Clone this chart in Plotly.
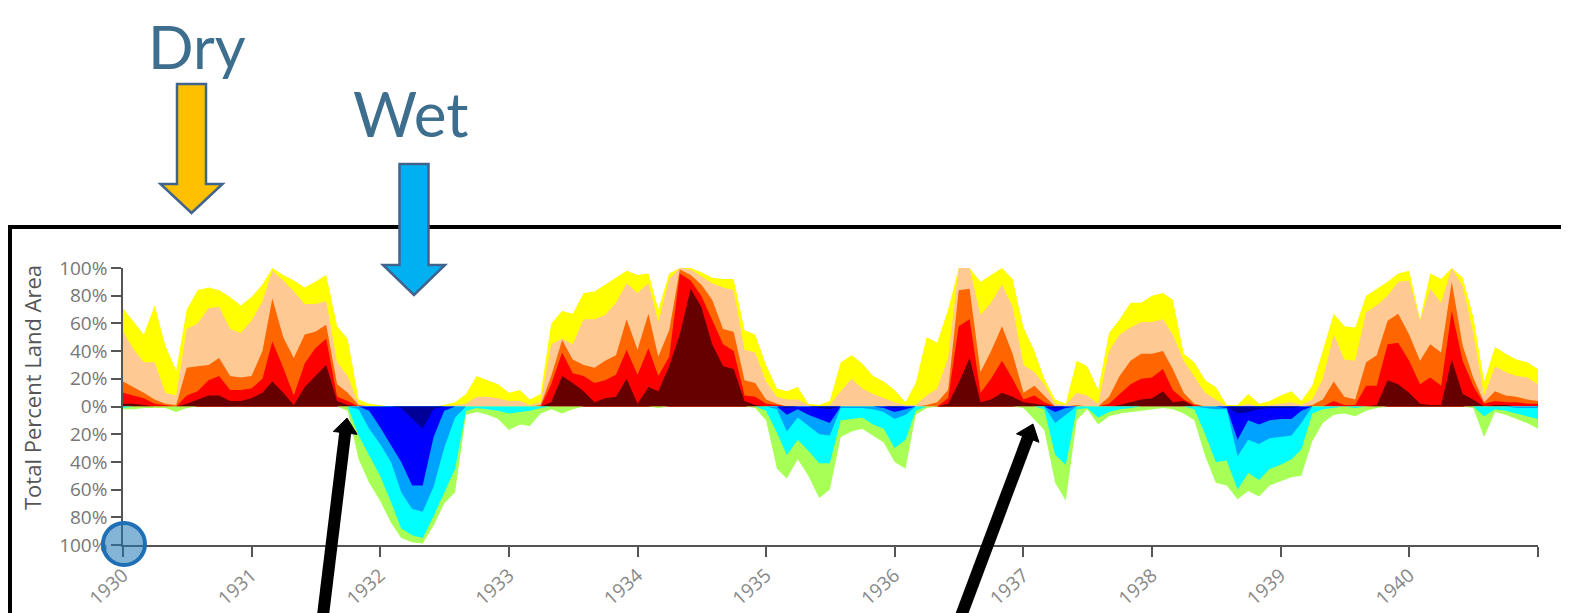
import pandas as pd
import plotly.graph_objects as go

# monthly drought / wetness extent, Jan 1930 .. Jan 1941
months = pd.date_range("1930-01-01", periods=133, freq="MS")

# dry side: cumulative percent of land area at or above each class
dry_d0 = [71, 61, 52, 73, 44, 26, 70, 84, 86, 84, 79, 73,
          79, 88, 100, 95, 91, 86, 90, 95, 58, 49, 5, 2,
          1, 0, 0, 0, 0, 0, 1, 3, 9, 22, 19, 16,
          10, 12, 5, 9, 60, 69, 67, 82, 83, 88, 93, 98,
          95, 96, 70, 96, 100, 100, 97, 93, 92, 92, 55, 52,
          30, 13, 11, 14, 2, 1, 4, 32, 37, 31, 22, 18,
          12, 3, 17, 50, 46, 70, 100, 100, 90, 95, 100, 92,
          57, 40, 20, 5, 2, 33, 29, 12, 53, 63, 75, 75,
          80, 82, 77, 38, 32, 19, 14, 1, 1, 9, 2, 4,
          8, 11, 4, 15, 40, 67, 58, 57, 80, 85, 90, 96,
          98, 63, 96, 92, 100, 93, 65, 18, 43, 38, 34, 32,
          27]
dry_d1 = [54, 41, 32, 32, 10, 8, 56, 60, 71, 72, 56, 53,
          62, 76, 98, 91, 83, 74, 74, 76, 32, 22, 2, 0,
          0, 0, 0, 0, 0, 0, 0, 1, 2, 7, 7, 6,
          4, 4, 1, 3, 45, 49, 45, 63, 63, 66, 75, 89,
          82, 89, 61, 92, 100, 99, 94, 89, 86, 84, 41, 39,
          18, 7, 5, 5, 1, 0, 1, 11, 20, 13, 9, 6,
          3, 1, 1, 8, 13, 35, 100, 100, 66, 75, 88, 72,
          30, 25, 16, 2, 1, 10, 8, 2, 40, 52, 57, 61,
          61, 63, 52, 33, 22, 10, 5, 0, 0, 2, 0, 1,
          2, 3, 1, 5, 20, 52, 34, 33, 68, 73, 80, 90,
          91, 62, 85, 75, 100, 87, 53, 8, 29, 25, 22, 21,
          16]
dry_d2 = [18, 14, 10, 5, 2, 1, 28, 29, 30, 35, 22, 21,
          22, 40, 78, 50, 35, 52, 54, 59, 16, 10, 1, 0,
          0, 0, 0, 0, 0, 0, 0, 0, 0, 0, 0, 0,
          0, 0, 0, 1, 22, 48, 34, 30, 28, 33, 37, 63,
          41, 67, 36, 55, 99, 95, 88, 77, 56, 54, 19, 17,
          5, 2, 0, 0, 0, 0, 0, 0, 0, 0, 0, 0,
          0, 0, 0, 1, 3, 12, 84, 85, 25, 40, 58, 38,
          10, 15, 8, 0, 0, 1, 0, 0, 7, 22, 33, 38,
          38, 40, 27, 10, 2, 0, 0, 0, 0, 0, 0, 0,
          0, 0, 0, 1, 5, 18, 7, 5, 32, 37, 62, 67,
          52, 33, 45, 39, 90, 44, 21, 3, 11, 8, 7, 5,
          4]
dry_d3 = [10, 8, 6, 2, 1, 0, 8, 11, 19, 22, 12, 12,
          13, 20, 47, 28, 8, 31, 42, 49, 7, 4, 0, 0,
          0, 0, 0, 0, 0, 0, 0, 0, 0, 0, 0, 0,
          0, 0, 0, 0, 16, 39, 24, 22, 17, 19, 23, 41,
          23, 42, 22, 36, 96, 91, 80, 62, 45, 40, 8, 7,
          2, 1, 0, 0, 0, 0, 0, 0, 0, 0, 0, 0,
          0, 0, 0, 0, 0, 6, 58, 63, 10, 20, 33, 20,
          5, 8, 3, 0, 0, 0, 0, 0, 2, 9, 16, 20,
          21, 27, 12, 5, 1, 0, 0, 0, 0, 0, 0, 0,
          0, 0, 0, 0, 0, 4, 1, 1, 15, 15, 45, 46,
          33, 16, 21, 15, 69, 33, 15, 2, 4, 3, 3, 2,
          2]
dry_d4 = [2, 2, 1, 0, 0, 0, 2, 5, 8, 8, 4, 4,
          6, 10, 18, 10, 1, 14, 22, 30, 4, 1, 0, 0,
          0, 0, 0, 0, 0, 0, 0, 0, 0, 0, 0, 0,
          0, 0, 0, 0, 3, 22, 17, 11, 3, 6, 7, 20,
          2, 14, 11, 29, 52, 85, 72, 45, 29, 27, 4, 1,
          0, 0, 0, 0, 0, 0, 0, 0, 0, 0, 0, 0,
          0, 0, 0, 0, 0, 2, 17, 35, 3, 5, 10, 7,
          3, 2, 1, 0, 0, 0, 0, 0, 0, 1, 3, 5,
          6, 11, 3, 4, 0, 0, 0, 0, 0, 0, 0, 0,
          0, 0, 0, 0, 0, 0, 0, 0, 0, 1, 19, 16,
          10, 2, 1, 1, 34, 9, 5, 0, 1, 1, 0, 0,
          0]

# wet side: cumulative percent of land area at or above each class
wet_w0 = [2, 2, 1, 1, 1, 4, 1, 0, 0, 0, 0, 0,
          0, 0, 0, 0, 0, 0, 0, 0, 0, 3, 38, 55,
          68, 84, 95, 98, 99, 86, 70, 62, 6, 4, 6, 9,
          17, 13, 14, 5, 2, 5, 2, 0, 0, 0, 0, 0,
          0, 0, 1, 0, 0, 0, 0, 0, 0, 0, 0, 1,
          10, 45, 52, 38, 50, 66, 60, 22, 18, 16, 21, 26,
          40, 45, 6, 1, 0, 0, 0, 0, 0, 0, 0, 0,
          1, 9, 17, 55, 68, 10, 2, 13, 7, 5, 4, 3,
          2, 1, 2, 5, 10, 36, 55, 57, 67, 61, 65, 57,
          54, 51, 50, 25, 12, 6, 5, 7, 3, 1, 0, 0,
          0, 0, 0, 0, 0, 0, 1, 22, 4, 6, 9, 12,
          16]
wet_w1 = [1, 0, 0, 0, 0, 0, 0, 0, 0, 0, 0, 0,
          0, 0, 0, 0, 0, 0, 0, 0, 0, 0, 21, 35,
          50, 69, 88, 93, 95, 79, 62, 45, 3, 1, 2, 3,
          5, 4, 3, 1, 0, 0, 0, 0, 0, 0, 0, 0,
          0, 0, 0, 0, 0, 0, 0, 0, 0, 0, 0, 0,
          3, 19, 35, 24, 32, 41, 41, 10, 9, 8, 13, 16,
          30, 24, 3, 0, 0, 0, 0, 0, 0, 0, 0, 0,
          0, 0, 2, 35, 42, 2, 1, 8, 4, 2, 1, 0,
          0, 0, 0, 0, 2, 20, 40, 39, 60, 48, 53, 45,
          42, 38, 31, 5, 2, 1, 0, 1, 0, 0, 0, 0,
          0, 0, 0, 0, 0, 0, 0, 7, 2, 3, 5, 7,
          9]
wet_w2 = [0, 0, 0, 0, 0, 0, 0, 0, 0, 0, 0, 0,
          0, 0, 0, 0, 0, 0, 0, 0, 0, 0, 2, 16,
          27, 40, 62, 74, 76, 58, 30, 8, 0, 0, 0, 0,
          0, 0, 0, 0, 0, 0, 0, 0, 0, 0, 0, 0,
          0, 0, 0, 0, 0, 0, 0, 0, 0, 0, 0, 0,
          0, 2, 18, 8, 14, 20, 21, 1, 1, 1, 2, 4,
          9, 6, 0, 0, 0, 0, 0, 0, 0, 0, 0, 0,
          0, 0, 0, 12, 6, 0, 0, 0, 0, 0, 0, 0,
          0, 0, 0, 0, 0, 1, 2, 2, 36, 24, 27, 23,
          22, 21, 12, 0, 0, 0, 0, 0, 0, 0, 0, 0,
          0, 0, 0, 0, 0, 0, 0, 0, 0, 0, 1, 1,
          1]
wet_w3 = [0, 0, 0, 0, 0, 0, 0, 0, 0, 0, 0, 0,
          0, 0, 0, 0, 0, 0, 0, 0, 0, 0, 0, 3,
          15, 28, 40, 57, 57, 22, 3, 0, 0, 0, 0, 0,
          0, 0, 0, 0, 0, 0, 0, 0, 0, 0, 0, 0,
          0, 0, 0, 0, 0, 0, 0, 0, 0, 0, 0, 0,
          0, 0, 6, 2, 6, 9, 12, 0, 0, 0, 0, 1,
          4, 2, 0, 0, 0, 0, 0, 0, 0, 0, 0, 0,
          0, 0, 0, 4, 1, 0, 0, 0, 0, 0, 0, 0,
          0, 0, 0, 0, 0, 0, 0, 1, 24, 10, 13, 10,
          9, 9, 3, 0, 0, 0, 0, 0, 0, 0, 0, 0,
          0, 0, 0, 0, 0, 0, 0, 0, 0, 0, 0, 0,
          0]
wet_w4 = [0, 0, 0, 0, 0, 0, 0, 0, 0, 0, 0, 0,
          0, 0, 0, 0, 0, 0, 0, 0, 0, 0, 0, 0,
          0, 0, 1, 9, 16, 2, 0, 0, 0, 0, 0, 0,
          0, 0, 0, 0, 0, 0, 0, 0, 0, 0, 0, 0,
          0, 0, 0, 0, 0, 0, 0, 0, 0, 0, 0, 0,
          0, 0, 1, 0, 0, 1, 2, 0, 0, 0, 0, 0,
          1, 0, 0, 0, 0, 0, 0, 0, 0, 0, 0, 0,
          0, 0, 0, 1, 0, 0, 0, 0, 0, 0, 0, 0,
          0, 0, 0, 0, 0, 0, 0, 0, 5, 4, 2, 1,
          1, 1, 0, 0, 0, 0, 0, 0, 0, 0, 0, 0,
          0, 0, 0, 0, 0, 0, 0, 0, 0, 0, 0, 0,
          0]

dry_colors = ["#ffff00", "#ffc993", "#ff6600", "#ff0000", "#660000"]
wet_colors = ["#a8ff55", "#00ffff", "#00a2ff", "#0000ff", "#000099"]

year_ticks = [f"{y}-01-01" for y in range(1930, 1942)]
year_labels = [str(y) for y in range(1930, 1941)] + [""]
pct_ticks = list(range(-100, 101, 20))
pct_labels = [f"{abs(v)}%" for v in pct_ticks]

W, H = 1569, 613
OFF = 8  # page body margin: the figure sits 8px right/down in the browser
# plot box on screen: x 123..1538, y 268..545
ML, MT = 123 - OFF, 268 - OFF
MR, MB = W - (1538 - OFF), H - (545 - OFF)


def px(x):
    # screen pixel x -> paper fraction
    return (x - OFF - ML) / (W - ML - MR)


def py(y):
    return (H - MB - (y - OFF)) / (H - MT - MB)


def path(points, close=True):
    s = "M " + " L ".join(f"{px(x):.5f},{py(y):.5f}" for x, y in points)
    return s + (" Z" if close else "")


def block_arrow(cx, top, neck, tip, body_half, head_half):
    return path([(cx - body_half, top), (cx + body_half, top),
                 (cx + body_half, neck), (cx + head_half, neck),
                 (cx, tip), (cx - head_half, neck),
                 (cx - body_half, neck)])


def black_arrow(x0, y0, x1, y1, head_len=15, head_half=12, width=12):
    dx, dy = x1 - x0, y1 - y0
    n = (dx * dx + dy * dy) ** 0.5
    ux, uy = dx / n, dy / n
    bx, by = x1 - head_len * ux, y1 - head_len * uy
    nx, ny = -uy, ux
    shaft = dict(type="line", xref="paper", yref="paper",
                 x0=px(x0), y0=py(y0), x1=px(bx + ux), y1=py(by + uy),
                 line=dict(color="black", width=width))
    head = dict(type="path", xref="paper", yref="paper",
                path=path([(x1, y1), (bx + head_half * nx, by + head_half * ny),
                           (bx - head_half * nx, by - head_half * ny)]),
                fillcolor="black", line=dict(color="black", width=1))
    return [shaft, head]


fig = go.Figure()

for vals, col in zip([dry_d0, dry_d1, dry_d2, dry_d3, dry_d4], dry_colors):
    fig.add_trace(go.Scatter(x=months, y=vals, mode="lines", fill="tozeroy",
                             fillcolor=col, line=dict(width=0, color=col),
                             hoverinfo="skip", showlegend=False))

for vals, col in zip([wet_w0, wet_w1, wet_w2, wet_w3, wet_w4], wet_colors):
    fig.add_trace(go.Scatter(x=months, y=[-v for v in vals], mode="lines",
                             fill="tozeroy", fillcolor=col,
                             line=dict(width=0, color=col),
                             hoverinfo="skip", showlegend=False))

outline = "#41648f"
shapes = [
    # frame around the chart
    dict(type="path", xref="paper", yref="paper",
         path=path([(10, 700), (10, 227), (1600, 227)], close=False),
         line=dict(color="black", width=4)),
    dict(type="path", xref="paper", yref="paper",
         path=block_arrow(191.5, 84, 184, 213, 14.5, 31),
         fillcolor="#ffc000", line=dict(color=outline, width=2.5)),
    dict(type="path", xref="paper", yref="paper",
         path=block_arrow(414, 164, 265, 295, 14.5, 31),
         fillcolor="#00b0f0", line=dict(color=outline, width=2.5)),
    dict(type="circle", xref="paper", yref="paper",
         x0=px(103), x1=px(145), y0=py(565), y1=py(523),
         fillcolor="rgba(31,119,180,0.55)",
         line=dict(color="#1f6fb4", width=4)),
]
shapes += black_arrow(320, 640, 347, 418)
shapes += black_arrow(952, 640, 1033, 424)

big = dict(family="Lato, sans-serif", size=60, color="#3e6e8e")

fig.update_layout(
    width=W, height=H,
    margin=dict(l=ML, r=MR, t=MT, b=MB, autoexpand=False),
    paper_bgcolor="white", plot_bgcolor="white",
    font=dict(family="Open Sans, sans-serif"),
    shapes=shapes,
    annotations=[
        dict(text="Dry", xref="paper", yref="paper", x=px(197), y=py(9),
             showarrow=False, xanchor="center", yanchor="top",
             borderpad=0, font=big),
        dict(text="Wet", xref="paper", yref="paper", x=px(410), y=py(113),
             showarrow=False, xanchor="center", yanchor="middle",
             font=dict(big, size=62)),
        dict(text="Total Percent Land Area", xref="paper", yref="paper",
             x=px(32), y=py(388), textangle=-90, showarrow=False,
             xanchor="center", yanchor="middle",
             font=dict(size=22, color="#555")),
    ],
    xaxis=dict(type="date", range=["1930-01-01", "1941-01-01"],
               tickvals=year_ticks, ticktext=year_labels, tickangle=-42,
               automargin=False,
               showgrid=False, zeroline=False, showline=True,
               linecolor="#555", linewidth=1.5, ticks="outside",
               ticklen=10, tickwidth=1.5, tickcolor="#555",
               tickfont=dict(size=19, color="#888")),
    yaxis=dict(range=[-100, 100], tickvals=pct_ticks, ticktext=pct_labels,
               automargin=False, layer="above traces",
               showgrid=False, zeroline=True, zerolinecolor="#a4a4c4",
               zerolinewidth=1, showline=True, linecolor="#555",
               linewidth=1.5, ticks="outside", ticklen=10, tickwidth=1.5,
               tickcolor="#555", tickfont=dict(size=19, color="#777")),
)

fig.write_html("out.html")
